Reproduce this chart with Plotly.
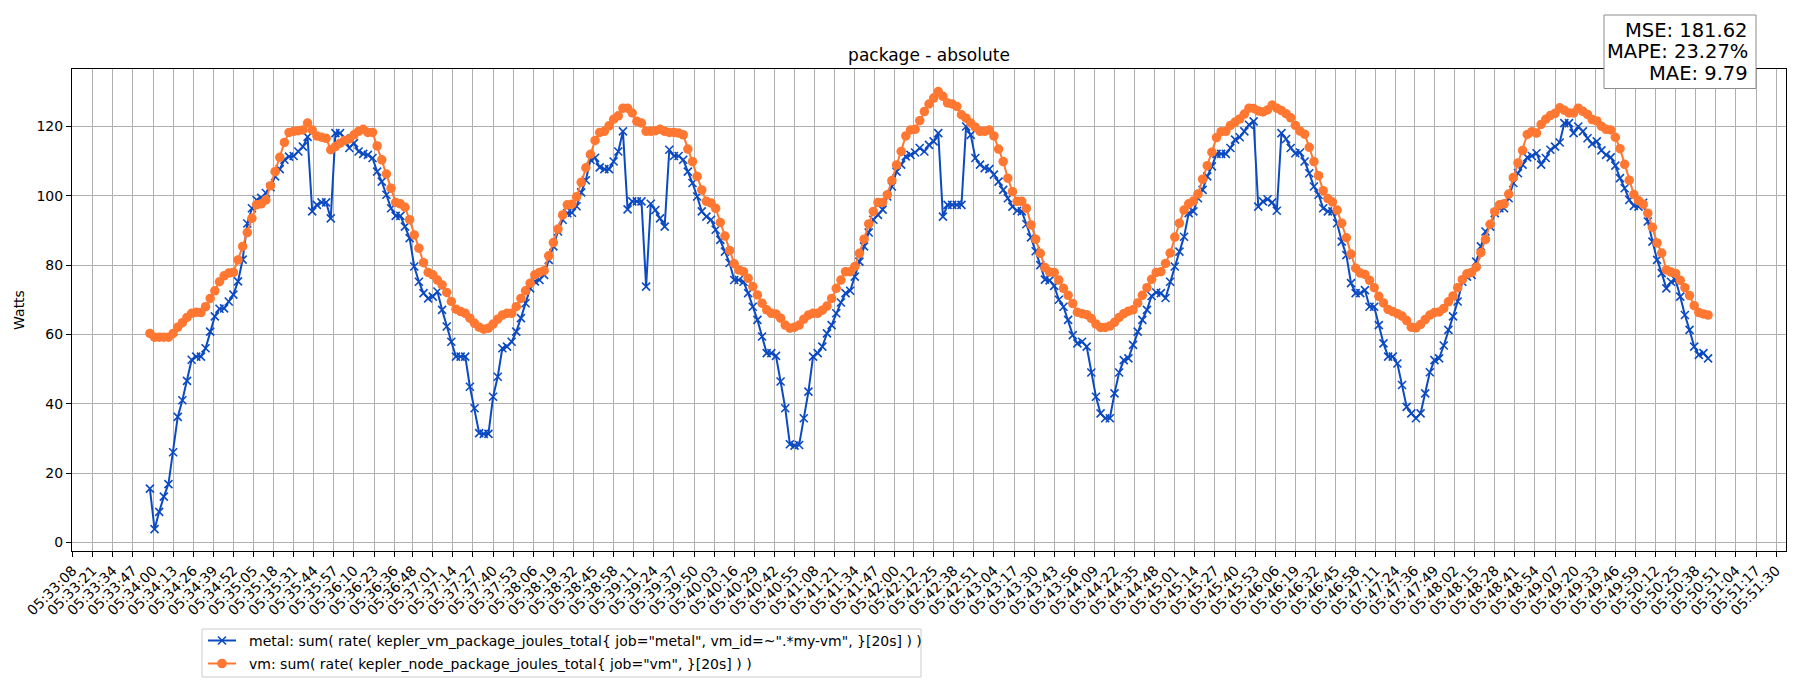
import pandas as pd
import plotly.graph_objects as go

# x tick labels (time of day)
tick_labels = [
    "05:33:08", "05:33:21", "05:33:34", "05:33:47", "05:34:00", "05:34:13", "05:34:26", "05:34:39",
    "05:34:52", "05:35:05", "05:35:18", "05:35:31", "05:35:44", "05:35:57", "05:36:10", "05:36:23",
    "05:36:36", "05:36:48", "05:37:01", "05:37:14", "05:37:27", "05:37:40", "05:37:53", "05:38:06",
    "05:38:19", "05:38:32", "05:38:45", "05:38:58", "05:39:11", "05:39:24", "05:39:37", "05:39:50",
    "05:40:03", "05:40:16", "05:40:29", "05:40:42", "05:40:55", "05:41:08", "05:41:21", "05:41:34",
    "05:41:47", "05:42:00", "05:42:12", "05:42:25", "05:42:38", "05:42:51", "05:43:04", "05:43:17",
    "05:43:30", "05:43:43", "05:43:56", "05:44:09", "05:44:22", "05:44:35", "05:44:48", "05:45:01",
    "05:45:14", "05:45:27", "05:45:40", "05:45:53", "05:46:06", "05:46:19", "05:46:32", "05:46:45",
    "05:46:58", "05:47:11", "05:47:24", "05:47:36", "05:47:49", "05:48:02", "05:48:15", "05:48:28",
    "05:48:41", "05:48:54", "05:49:07", "05:49:20", "05:49:33", "05:49:46", "05:49:59", "05:50:12",
    "05:50:25", "05:50:38", "05:50:51", "05:51:04", "05:51:17", "05:51:30",
]
y_ticks = [0, 20, 40, 60, 80, 100, 120]

day = "2024-01-01"
start_time = "05:33:58"
step_seconds = 3

# metal: kepler_vm_package_joules_total rate (Watts), one sample every 3 s
metal = [
    15.5, 3.8, 8.8, 13.2, 16.8, 26.0, 36.2, 41.0, 46.6, 52.7, 53.6, 53.6, 56.0, 60.8, 65.2,
    67.4, 67.5, 69.5, 71.5, 75.3, 81.6, 92.0, 96.4, 98.8, 99.4, 100.8, 102.5, 105.6, 107.7, 110.4,
    111.3, 111.5, 112.8, 114.2, 117.0, 95.5, 97.4, 98.1, 98.1, 93.5, 118.1, 118.1, 116.6, 113.8, 115.2,
    112.8, 112.1, 111.8, 110.9, 107.0, 104.1, 100.3, 96.4, 94.2, 94.2, 91.1, 87.8, 79.6, 75.2, 71.9,
    70.4, 70.9, 72.4, 67.1, 62.3, 57.9, 53.6, 53.6, 53.6, 44.9, 38.7, 31.5, 31.3, 31.3, 42.0,
    47.8, 56.0, 56.5, 57.9, 60.8, 64.7, 69.0, 73.3, 75.3, 75.7, 77.2, 81.5, 85.4, 89.7, 93.1,
    95.0, 95.1, 97.0, 101.0, 104.5, 110.4, 111.0, 108.2, 107.7, 107.7, 109.9, 112.8, 118.6, 96.1, 98.4,
    98.4, 98.4, 73.8, 97.7, 95.9, 93.5, 91.1, 113.3, 111.5, 111.5, 110.4, 107.0, 103.7, 99.8, 95.5,
    94.0, 93.1, 90.2, 87.3, 83.9, 80.6, 75.7, 75.7, 75.2, 71.9, 68.0, 64.2, 59.4, 54.6, 54.6,
    53.8, 46.4, 38.7, 28.3, 27.9, 28.1, 35.8, 43.5, 53.6, 54.6, 56.5, 60.3, 62.7, 66.1, 69.2,
    71.9, 72.6, 76.7, 81.0, 85.4, 89.4, 93.1, 94.5, 96.0, 99.8, 102.7, 107.0, 109.0, 111.4, 111.8,
    112.5, 113.8, 112.8, 114.7, 115.7, 118.1, 94.0, 97.4, 97.4, 97.4, 97.4, 120.0, 117.6, 110.9, 109.0,
    108.0, 107.7, 106.1, 104.1, 101.7, 99.3, 96.9, 95.7, 95.5, 91.8, 88.0, 84.0, 80.0, 75.8, 75.6,
    74.0, 70.0, 68.0, 64.2, 59.8, 57.4, 57.9, 56.5, 49.0, 42.0, 37.2, 35.8, 35.8, 43.0, 49.0,
    52.6, 53.1, 57.0, 60.8, 64.2, 67.1, 71.1, 72.1, 71.9, 70.5, 75.2, 79.6, 83.9, 88.2, 95.0,
    95.5, 99.3, 101.7, 105.6, 108.5, 112.1, 112.1, 112.1, 113.8, 116.2, 116.9, 118.6, 120.5, 121.5, 96.9,
    98.4, 99.0, 98.1, 95.7, 118.1, 116.4, 113.8, 112.3, 112.5, 109.9, 106.5, 102.7, 100.3, 96.4, 95.5,
    95.5, 92.1, 86.8, 82.9, 74.8, 71.9, 71.9, 72.8, 68.0, 68.0, 62.7, 57.4, 53.6, 53.6, 51.6,
    45.4, 39.1, 37.2, 35.8, 37.2, 43.0, 49.1, 52.6, 53.1, 56.8, 61.3, 65.2, 69.5, 75.2, 76.7,
    77.2, 81.0, 85.4, 89.7, 91.1, 95.0, 96.4, 96.4, 99.3, 103.7, 106.5, 109.0, 111.1, 111.5, 112.3,
    109.0, 110.9, 113.3, 114.2, 115.4, 121.0, 121.0, 118.1, 120.0, 118.6, 116.6, 115.0, 115.7, 113.1, 111.8,
    111.1, 108.7, 105.1, 102.2, 98.8, 97.1, 96.9, 98.0, 92.6, 86.8, 81.5, 77.7, 73.3, 75.2, 75.7,
    70.9, 65.6, 61.3, 56.5, 54.1, 54.6, 53.1,
]

# vm: kepler_node_package_joules_total rate (Watts)
vm = [
    60.3, 59.2, 59.2, 59.2, 59.2, 60.3, 62.1, 63.4, 64.9, 66.1, 66.4, 66.3, 68.0, 70.4, 72.6,
    75.2, 76.9, 77.7, 77.9, 81.5, 85.4, 89.4, 93.5, 97.4, 97.7, 98.8, 102.9, 107.0, 111.1, 115.4,
    118.3, 118.6, 118.8, 119.0, 121.0, 119.0, 117.3, 116.9, 116.6, 113.3, 114.2, 115.2, 116.0, 116.4, 117.6,
    118.6, 119.2, 118.3, 118.3, 114.4, 110.4, 106.3, 102.2, 98.1, 97.7, 96.7, 93.1, 88.7, 84.9, 80.7,
    77.9, 77.2, 75.7, 74.3, 72.1, 69.5, 67.3, 66.6, 66.1, 64.7, 63.2, 62.1, 61.5, 61.8, 63.0,
    64.4, 65.6, 66.1, 66.1, 68.0, 70.4, 72.6, 74.8, 77.2, 77.9, 78.4, 82.7, 86.5, 90.4, 94.5,
    97.4, 97.6, 99.7, 103.9, 108.1, 112.0, 116.0, 118.3, 118.6, 120.2, 122.1, 123.1, 125.3, 125.3, 123.9,
    121.5, 121.0, 118.6, 118.6, 118.8, 119.2, 118.6, 118.3, 118.3, 118.1, 117.6, 113.5, 109.9, 105.6, 101.7,
    98.4, 97.9, 96.4, 92.3, 88.4, 84.2, 80.4, 78.6, 78.1, 76.2, 73.8, 71.4, 69.0, 67.1, 66.1,
    65.9, 64.7, 62.7, 61.8, 62.1, 62.7, 64.4, 65.6, 66.1, 66.1, 67.0, 68.2, 70.4, 73.3, 75.7,
    78.1, 78.1, 79.6, 83.4, 87.5, 91.9, 95.5, 98.1, 98.1, 100.3, 104.4, 108.9, 112.8, 117.3, 119.0,
    119.2, 121.7, 124.3, 126.5, 128.2, 130.1, 128.7, 126.8, 126.5, 125.8, 123.4, 122.4, 121.0, 119.8, 118.6,
    118.6, 119.0, 117.3, 113.5, 109.9, 105.1, 101.2, 98.4, 98.4, 96.4, 91.6, 87.5, 83.4, 79.3, 78.0,
    77.9, 75.7, 73.3, 71.3, 68.9, 66.4, 66.0, 65.7, 64.6, 63.0, 62.0, 62.0, 62.4, 63.5, 64.9,
    66.0, 66.7, 67.1, 69.1, 71.3, 73.5, 75.9, 77.9, 78.1, 80.5, 83.5, 88.1, 92.1, 95.9, 97.7,
    98.5, 100.5, 104.8, 108.7, 112.6, 116.8, 118.5, 118.6, 120.3, 121.3, 122.2, 123.6, 125.3, 125.2, 124.5,
    124.2, 124.8, 126.2, 125.3, 124.6, 123.7, 122.5, 120.3, 118.7, 117.8, 114.0, 109.9, 105.8, 101.5, 99.2,
    98.2, 95.9, 92.1, 87.9, 83.2, 79.1, 77.7, 77.3, 75.6, 73.5, 71.0, 69.1, 67.2, 66.6, 66.0,
    65.3, 64.0, 62.1, 61.9, 62.9, 64.3, 65.6, 66.3, 66.5, 67.5, 69.4, 71.1, 73.5, 75.8, 77.5,
    77.9, 79.4, 83.6, 87.4, 91.8, 95.4, 97.4, 97.7, 100.5, 105.3, 109.5, 113.1, 117.7, 118.5, 118.1,
    120.6, 122.1, 123.2, 123.8, 125.4, 124.7, 123.9, 123.9, 125.3, 124.4, 123.5, 122.0, 121.6, 120.1, 119.2,
    119.0, 116.9, 113.6, 109.1, 104.5, 100.4, 98.6, 97.6, 95.0, 90.9, 86.4, 83.5, 78.6, 78.0, 77.6,
    75.6, 73.5, 71.2, 68.3, 66.3, 65.9, 65.6,
]

metrics = ["MSE: 181.62", "MAPE: 23.27%", "MAE: 9.79"]

metal_name = 'metal: sum( rate( kepler_vm_package_joules_total{ job="metal", vm_id=~".*my-vm", }[20s] ) )'
vm_name = 'vm: sum( rate( kepler_node_package_joules_total{ job="vm", }[20s] ) )'

BLUE = "#0b4ac2"
ORANGE = "#ff7731"
FONT = "DejaVu Sans"

# the page body has an 8px margin, so the figure is shrunk by that much
W, H, PAGE_PAD = 1800, 700, 8
# plot area in page pixels
PL, PR, PT, PB = 72, 1786, 69, 551


def px(x):
    return (x - PL) / (PR - PL)


def py(y):
    return (PB - y) / (PB - PT)


times = pd.date_range(f"{day} {start_time}", periods=len(metal), freq=f"{step_seconds}s")
span = times[-1] - times[0]
x_range = [times[0] - span * 0.05, times[-1] + span * 0.05]

fig = go.Figure()

fig.add_trace(go.Scatter(
    x=times, y=metal, name=metal_name, mode="lines+markers",
    line=dict(color=BLUE, width=2),
    marker=dict(symbol="x-thin", size=8, line=dict(color=BLUE, width=1.6)),
))
fig.add_trace(go.Scatter(
    x=times, y=vm, name=vm_name, mode="lines+markers",
    line=dict(color=ORANGE, width=2),
    marker=dict(symbol="circle", size=9.5, color=ORANGE),
))

fig.update_layout(
    width=W - PAGE_PAD, height=H - PAGE_PAD,
    margin=dict(l=PL - PAGE_PAD, r=W - PR, t=PT - PAGE_PAD, b=H - PB, autoexpand=False),
    paper_bgcolor="white", plot_bgcolor="white",
    font=dict(family=FONT, size=14, color="black"),
    title=dict(text="package - absolute", font=dict(size=17), x=0.5, xref="paper",
               y=1 - (55 - PAGE_PAD) / (H - PAGE_PAD), yanchor="middle", xanchor="center"),
    showlegend=False,
)

fig.update_xaxes(
    type="date", range=x_range,
    tickmode="array", tickvals=[f"{day} {t}" for t in tick_labels], ticktext=tick_labels,
    tickangle=-45, ticks="outside", ticklen=5, tickwidth=1, tickcolor="black",
    showgrid=True, gridcolor="#b0b0b0", gridwidth=1,
    showline=True, linecolor="black", linewidth=1, mirror=True,
    zeroline=False, tickfont=dict(size=14),
)
fig.update_yaxes(
    range=[-2.5, 136.6], tickmode="array", tickvals=y_ticks,
    ticks="outside", ticklen=5, tickwidth=1, tickcolor="black",
    showgrid=True, gridcolor="#b0b0b0", gridwidth=1,
    showline=True, linecolor="black", linewidth=1, mirror=True,
    zeroline=False, tickfont=dict(size=14),
    title=dict(text="Watts", font=dict(size=14), standoff=8),
)

# legend below the plot, drawn by hand to match matplotlib spacing
fig.add_shape(type="rect", xref="paper", yref="paper",
              x0=px(202), x1=px(921), y0=py(629), y1=py(677),
              line=dict(color="#cccccc", width=1), fillcolor="white", layer="above")
legend_rows = [(metal_name, BLUE, "x", 640.5), (vm_name, ORANGE, "o", 663.5)]
for name, color, mark, row_y in legend_rows:
    fig.add_shape(type="line", xref="paper", yref="paper",
                  x0=px(208), x1=px(236), y0=py(row_y), y1=py(row_y),
                  line=dict(color=color, width=2), layer="above")
    cx = 222
    if mark == "x":
        for d in (1, -1):
            fig.add_shape(type="line", xref="paper", yref="paper",
                          x0=px(cx - 4), x1=px(cx + 4), y0=py(row_y - 4 * d), y1=py(row_y + 4 * d),
                          line=dict(color=color, width=1.6), layer="above")
    else:
        fig.add_shape(type="circle", xref="paper", yref="paper",
                      x0=px(cx - 4.8), x1=px(cx + 4.8), y0=py(row_y - 4.8), y1=py(row_y + 4.8),
                      line=dict(color=color, width=0), fillcolor=color, layer="above")
    fig.add_annotation(xref="paper", yref="paper", x=px(247), y=py(row_y),
                       xanchor="left", yanchor="middle", showarrow=False,
                       text=name, font=dict(size=14, color="black"))

# metrics box in the top right corner
fig.add_shape(type="rect", xref="paper", yref="paper",
              x0=px(1604), x1=px(1756), y0=py(15), y1=py(88.5),
              line=dict(color="#8c8c8c", width=1), fillcolor="white", layer="above")
for k, line in enumerate(metrics):
    fig.add_annotation(xref="paper", yref="paper", x=px(1750), y=py(30 + 21.8 * k),
                       xanchor="right", yanchor="middle", showarrow=False,
                       text=line, font=dict(size=19.5, color="black"))

fig.write_html("out.html")
